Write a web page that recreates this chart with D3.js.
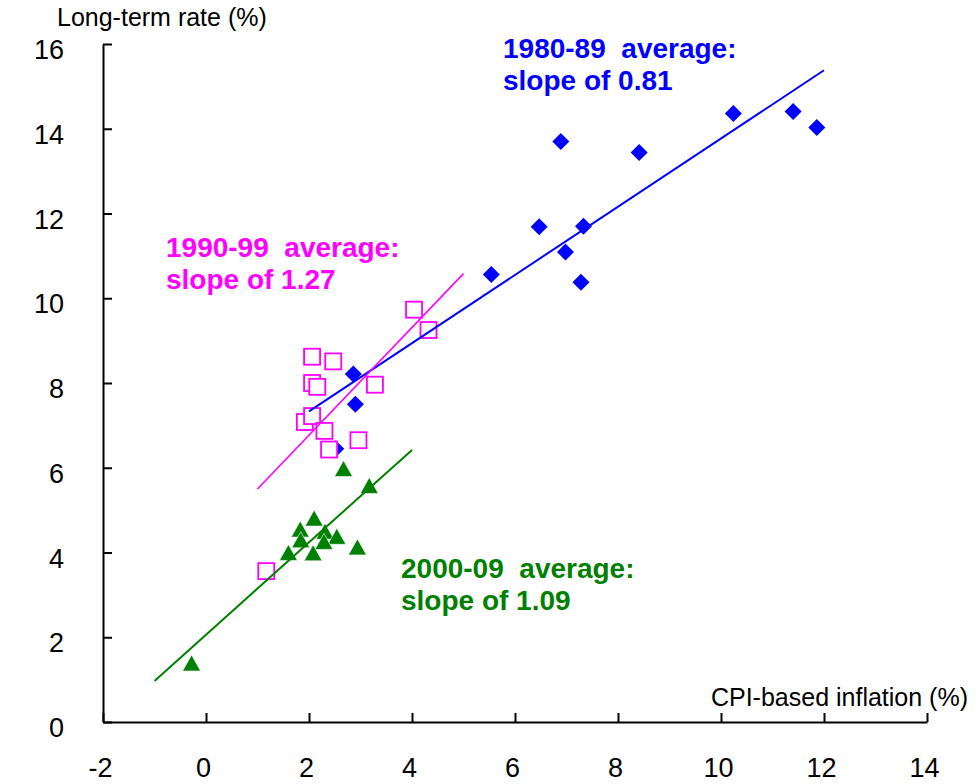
<!DOCTYPE html>
<html>
<head>
<meta charset="utf-8">
<script src="https://cdn.jsdelivr.net/npm/d3@7"></script>
<style>
  html, body { margin: 0; padding: 0; background: #fff; }
  svg { display: block; font-family: "Liberation Sans", Arial, sans-serif; }
</style>
</head>
<body>
<svg id="chart" width="980" height="784"></svg>
<script>
// ---- data ----
const xTicks = [-2, 0, 2, 4, 6, 8, 10, 12, 14];
const yTicks = [0, 2, 4, 6, 8, 10, 12, 14, 16];

// 1980-89 (blue diamonds): [inflation, long-term rate]
const s1980 = [
  [11.86, 14.03], [11.40, 14.41], [10.24, 14.36], [6.89, 13.70], [8.41, 13.44],
  [6.47, 11.69], [7.33, 11.70], [6.98, 11.09], [5.54, 10.56], [7.28, 10.38],
  [2.86, 8.21], [2.90, 7.50], [2.52, 6.45]
];
// 1990-99 (magenta squares)
const s1990 = [
  [4.04, 9.73], [4.32, 9.25], [2.06, 8.62], [2.47, 8.51], [2.06, 8.00],
  [2.16, 7.91], [3.28, 7.96], [1.92, 7.08], [2.06, 7.22], [2.30, 6.87],
  [2.39, 6.43], [2.96, 6.65], [1.17, 3.56]
];
// 2000-09 (green triangles)
const s2000 = [
  [2.67, 5.97], [3.17, 5.57], [2.10, 4.80], [1.83, 4.54], [2.31, 4.49],
  [1.84, 4.29], [2.54, 4.37], [2.29, 4.25], [2.08, 3.98], [1.60, 3.99],
  [2.94, 4.12], [-0.28, 1.38]
];
// fitted lines (end points)
const fit1980 = [[2.0, 7.33], [12.0, 15.38]];
const fit1990 = [[1.0, 5.50], [5.0, 10.58]];
const fit2000 = [[-1.0, 0.97], [4.0, 6.42]];

const labels = [
  { lines: ["1980-89  average:", "slope of 0.81"], color: "#0000FF", x: 503, y: 58 },
  { lines: ["1990-99  average:", "slope of 1.27"], color: "#FF00FF", x: 166, y: 257 },
  { lines: ["2000-09  average:", "slope of 1.09"], color: "#008000", x: 401, y: 578 }
];

// ---- chart ----
const svg = d3.select("#chart");
const x = d3.scaleLinear().domain([-2, 14]).range([103, 927]);
const y = d3.scaleLinear().domain([0, 16]).range([722, 44]);

// axes
const xAxis = d3.axisBottom(x).tickValues(xTicks).tickSize(-9).tickSizeOuter(0).tickPadding(36)
  .tickFormat(d => String(d));
const yAxis = d3.axisLeft(y).tickValues(yTicks).tickSize(-9).tickSizeOuter(0).tickPadding(39)
  .tickFormat(d => String(d));

const gx = svg.append("g").attr("transform", `translate(0,${y(0)})`).call(xAxis);
const gy = svg.append("g").attr("transform", `translate(${x(-2)},0)`).call(yAxis);

[gx, gy].forEach(g => {
  g.attr("font-family", null).attr("font-size", null);
  g.select(".domain").attr("stroke", "#000").attr("stroke-width", 2);
  g.selectAll(".tick line").attr("stroke", "#000").attr("stroke-width", 2);
  g.selectAll(".tick text").attr("fill", "#000").style("font-size", "27px")
    .style("font-family", "'Liberation Sans', Arial, sans-serif");
});
gx.selectAll(".tick text").attr("dx", "-3");
gy.selectAll(".tick text").attr("dy", "0.54em");

// axis titles
svg.append("text").attr("x", 57).attr("y", 26)
  .style("font-size", "25px").attr("fill", "#000").text("Long-term rate (%)");
svg.append("text").attr("x", 968).attr("y", 706).attr("text-anchor", "end")
  .style("font-size", "25px").attr("fill", "#000").text("CPI-based inflation (%)");

// markers
svg.append("g").selectAll("path").data(s1980).join("path")
  .attr("transform", d => `translate(${x(d[0])},${y(d[1])})`)
  .attr("d", "M0,-8.5L8.5,0L0,8.5L-8.5,0Z")
  .attr("fill", "#0000FF");

svg.append("g").selectAll("rect").data(s1990).join("rect")
  .attr("x", d => x(d[0]) - 8).attr("y", d => y(d[1]) - 8)
  .attr("width", 16).attr("height", 16)
  .attr("fill", "#fff").attr("stroke", "#FF00FF").attr("stroke-width", 1.8);

svg.append("g").selectAll("path").data(s2000).join("path")
  .attr("transform", d => `translate(${x(d[0])},${y(d[1])})`)
  .attr("d", "M0,-8.5L9,7.5L-9,7.5Z")
  .attr("fill", "#008000").attr("stroke", "#fff").attr("stroke-width", 0.6);

// fit lines
const line = d3.line().x(d => x(d[0])).y(d => y(d[1]));
svg.append("path").datum(fit1980).attr("d", line).attr("stroke", "#0000FF").attr("stroke-width", 2).attr("fill", "none");
svg.append("path").datum(fit1990).attr("d", line).attr("stroke", "#FF00FF").attr("stroke-width", 1.6).attr("fill", "none");
svg.append("path").datum(fit2000).attr("d", line).attr("stroke", "#008000").attr("stroke-width", 2).attr("fill", "none");

// annotations
labels.forEach(l => {
  const t = svg.append("text").attr("fill", l.color)
    .style("font-size", "28px").style("font-weight", "bold").style("white-space", "pre");
  l.lines.forEach((s, i) => {
    t.append("tspan").attr("x", l.x).attr("y", l.y + i * 32).text(s);
  });
});
</script>
</body>
</html>
